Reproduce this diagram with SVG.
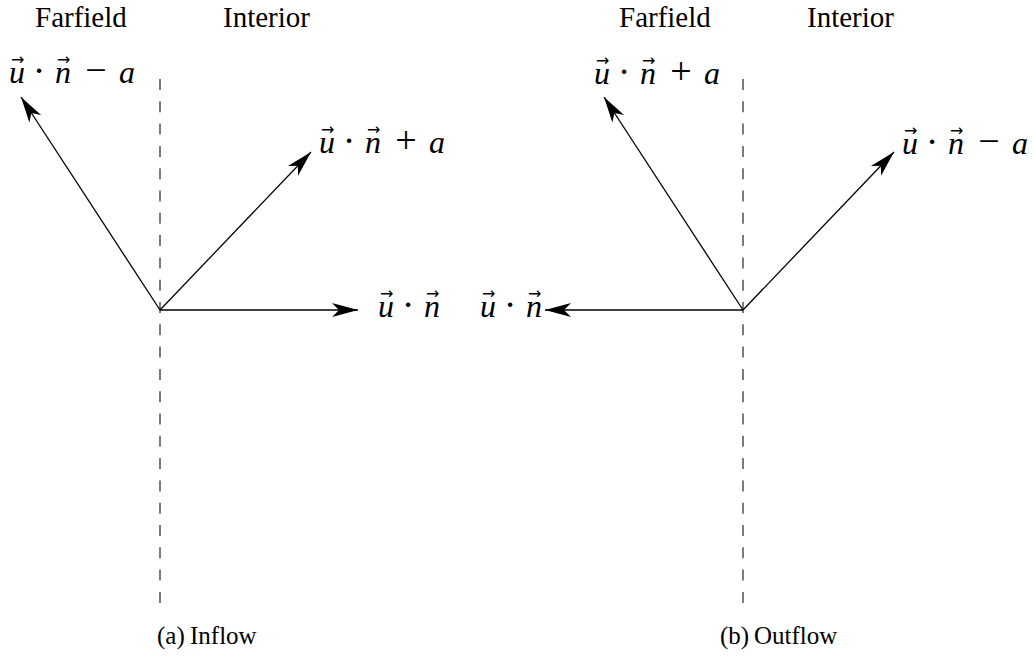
<svg xmlns="http://www.w3.org/2000/svg" width="1034" height="662" viewBox="0 0 1034 662">
<style>
.t{font-family:"Liberation Serif","Times New Roman",serif;font-size:29px;fill:#000}
.cap{font-family:"Liberation Serif","Times New Roman",serif;font-size:25px;fill:#000}
.m{font-family:"Liberation Serif","Times New Roman",serif;font-size:32px;fill:#000}
.op{font-family:"Liberation Serif","Times New Roman",serif;font-size:38px;fill:#000}
.i{font-style:italic}
.v{font-family:"DejaVu Sans",sans-serif;font-size:16px;fill:#000}
.dash{stroke:#444;stroke-width:1.4;stroke-dasharray:11 11.3;fill:none}
.arr{stroke:#000;stroke-width:1.3;fill:none;marker-end:url(#ah)}
</style>
<defs>
<marker id="ah" markerUnits="userSpaceOnUse" orient="auto" refX="0" refY="0" markerWidth="30" markerHeight="18" viewBox="-27 -9 28 18" overflow="visible">
<path d="M0,0 L-26,-7 L-19,0 L-26,7 Z" fill="#000"/>
</marker>
<g id="vec"><text class="v" x="0" y="0">→</text></g>
</defs>
<rect width="1034" height="662" fill="#fff"/>

<g id="headings">
<text class="t" x="35" y="27">Farfield</text>
<text class="t" x="223" y="27">Interior</text>
<text class="t" x="619" y="27">Farfield</text>
<text class="t" x="807" y="27">Interior</text>
</g>

<g id="boundaries">
<line class="dash" x1="160" y1="79" x2="160" y2="604"/>
<line class="dash" x1="743" y1="79" x2="743" y2="604"/>
</g>

<g id="connectors">
<line class="arr" x1="160" y1="310" x2="21" y2="97"/>
<line class="arr" x1="160" y1="310" x2="311" y2="152"/>
<line class="arr" x1="160" y1="310" x2="358" y2="310"/>
<line class="arr" x1="743" y1="310" x2="604" y2="97"/>
<line class="arr" x1="743" y1="310" x2="894" y2="152"/>
<line class="arr" x1="743" y1="310" x2="545" y2="310"/>
</g>

<g id="label-a-minus" transform="translate(9,83)">
<text class="m i" x="0" y="0">u</text><use href="#vec" x="2" y="-18"/>
<text class="op" x="30" y="0" text-anchor="middle">·</text>
<text class="m i" x="46" y="0">n</text><use href="#vec" x="48" y="-18"/>
<text class="op" x="87" y="0" text-anchor="middle">−</text>
<text class="m i" x="110" y="0">a</text>
</g>
<g id="label-a-plus" transform="translate(319,153)">
<text class="m i" x="0" y="0">u</text><use href="#vec" x="2" y="-18"/>
<text class="op" x="30" y="0" text-anchor="middle">·</text>
<text class="m i" x="46" y="0">n</text><use href="#vec" x="48" y="-18"/>
<text class="op" x="87" y="0" text-anchor="middle">+</text>
<text class="m i" x="110" y="0">a</text>
</g>
<g id="label-a-un" transform="translate(378,317)">
<text class="m i" x="0" y="0">u</text><use href="#vec" x="2" y="-18"/>
<text class="op" x="30" y="0" text-anchor="middle">·</text>
<text class="m i" x="46" y="0">n</text><use href="#vec" x="48" y="-18"/>
</g>

<g id="label-b-plus" transform="translate(594,84)">
<text class="m i" x="0" y="0">u</text><use href="#vec" x="2" y="-18"/>
<text class="op" x="30" y="0" text-anchor="middle">·</text>
<text class="m i" x="46" y="0">n</text><use href="#vec" x="48" y="-18"/>
<text class="op" x="87" y="0" text-anchor="middle">+</text>
<text class="m i" x="110" y="0">a</text>
</g>
<g id="label-b-minus" transform="translate(902,154)">
<text class="m i" x="0" y="0">u</text><use href="#vec" x="2" y="-18"/>
<text class="op" x="30" y="0" text-anchor="middle">·</text>
<text class="m i" x="46" y="0">n</text><use href="#vec" x="48" y="-18"/>
<text class="op" x="87" y="0" text-anchor="middle">−</text>
<text class="m i" x="110" y="0">a</text>
</g>
<g id="label-b-un" transform="translate(480,317)">
<text class="m i" x="0" y="0">u</text><use href="#vec" x="2" y="-18"/>
<text class="op" x="30" y="0" text-anchor="middle">·</text>
<text class="m i" x="46" y="0">n</text><use href="#vec" x="48" y="-18"/>
</g>

<g id="captions">
<text class="cap" x="157" y="644">(a)</text>
<text class="cap" x="190" y="644">Inflow</text>
<text class="cap" x="720" y="644">(b)</text>
<text class="cap" x="754" y="644">Outflow</text>
</g>
</svg>
